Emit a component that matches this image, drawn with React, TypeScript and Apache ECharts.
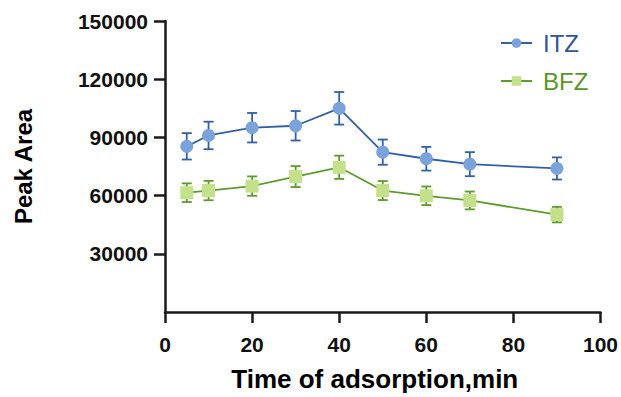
import React, { useEffect, useRef } from "react";
import * as echarts from "echarts";

const xValues = [5, 10, 20, 30, 40, 50, 60, 70, 90];
const itzMean = [85400, 91000, 95000, 96000, 105000, 82400, 79000, 76200, 74000];
const itzErr = [6800, 7100, 7600, 7600, 8400, 6500, 6100, 6200, 5700];
const bfzMean = [61500, 62600, 64900, 69800, 74600, 62600, 59900, 57500, 50200];
const bfzErr = [4800, 5000, 5000, 5400, 6000, 4900, 4800, 4600, 4000];
const seriesNames = ["ITZ", "BFZ"];

const FONT = "'Liberation Sans', Arial, sans-serif";
const ITZ_LINE = "#3160A6";
const ITZ_FILL = "#7BA2DA";
const ITZ_TEXT = "#2F5597";
const BFZ_LINE = "#5C9B2E";
const BFZ_FILL = "#C4E08A";
const BFZ_TEXT = "#5A962C";

function errData(mean: number[], err: number[]) {
  return xValues.map((x, i) => [x, mean[i] - err[i], mean[i] + err[i]]);
}

function errSeries(name: string, data: number[][], color: string) {
  return {
    type: "custom",
    name,
    data,
    encode: { x: 0, y: [1, 2] },
    z: 1,
    silent: true,
    renderItem: (params: any, api: any) => {
      const x = api.value(0);
      const pLo = api.coord([x, api.value(1)]);
      const pHi = api.coord([x, api.value(2)]);
      const hw = 5;
      const style = { stroke: color, lineWidth: 1.8 };
      return {
        type: "group",
        children: [
          { type: "line", shape: { x1: pHi[0], y1: pHi[1], x2: pLo[0], y2: pLo[1] }, style },
          { type: "line", shape: { x1: pHi[0] - hw, y1: pHi[1], x2: pHi[0] + hw, y2: pHi[1] }, style },
          { type: "line", shape: { x1: pLo[0] - hw, y1: pLo[1], x2: pLo[0] + hw, y2: pLo[1] }, style },
        ],
      };
    },
  };
}

export default function App() {
  const ref = useRef<HTMLDivElement>(null);
  useEffect(() => {
    if (!ref.current) return;
    const chart = echarts.init(ref.current, undefined, { renderer: "svg" });
    chart.setOption({
      animation: false,
      backgroundColor: "#ffffff",
      grid: { left: 165, right: 18, top: 21, bottom: 78, containLabel: false },
      legend: {
        orient: "vertical",
        left: 495,
        top: 26,
        itemWidth: 31,
        itemHeight: 12,
        itemGap: 14,
        data: [
          { name: seriesNames[0], textStyle: { color: ITZ_TEXT } },
          { name: seriesNames[1], textStyle: { color: BFZ_TEXT } },
        ],
        textStyle: { fontFamily: FONT, fontSize: 24, padding: [0, 0, 0, 6] },
      },
      xAxis: {
        type: "value",
        min: 0,
        max: 100,
        interval: 20,
        name: "Time of adsorption,min",
        nameLocation: "middle",
        nameGap: 54,
        nameTextStyle: {
          fontFamily: FONT,
          fontSize: 26,
          fontWeight: "bold",
          color: "#000",
          padding: [0, 16, 0, 0],
        },
        axisLine: { show: true, lineStyle: { color: "#1a1a1a", width: 2.5 } },
        axisTick: { show: true, length: 11, lineStyle: { color: "#1a1a1a", width: 2.5 } },
        axisLabel: { fontFamily: FONT, fontSize: 21, fontWeight: "bold", color: "#111", margin: 22 },
        splitLine: { show: false },
      },
      yAxis: {
        type: "value",
        min: 0,
        max: 150000,
        interval: 30000,
        name: "Peak Area",
        nameLocation: "middle",
        nameGap: 130,
        nameTextStyle: { fontFamily: FONT, fontSize: 24, fontWeight: "bold", color: "#000" },
        axisLine: { show: true, lineStyle: { color: "#1a1a1a", width: 2.5 } },
        axisTick: { show: true, length: 11, lineStyle: { color: "#1a1a1a", width: 2.5 } },
        axisLabel: {
          fontFamily: FONT,
          fontSize: 21,
          fontWeight: "bold",
          color: "#111",
          margin: 17,
          showMinLabel: false,
          formatter: (v: number) => String(v),
        },
        splitLine: { show: false },
      },
      series: [
        errSeries("ITZ_err", errData(itzMean, itzErr), ITZ_LINE),
        errSeries("BFZ_err", errData(bfzMean, bfzErr), BFZ_LINE),
        {
          type: "line",
          name: seriesNames[0],
          data: xValues.map((x, i) => [x, itzMean[i]]),
          symbol: "circle",
          symbolSize: 13,
          z: 3,
          lineStyle: { color: ITZ_LINE, width: 1.8 },
          itemStyle: { color: ITZ_FILL, borderWidth: 0 },
        },
        {
          type: "line",
          name: seriesNames[1],
          data: xValues.map((x, i) => [x, bfzMean[i]]),
          symbol: "rect",
          symbolSize: 13,
          z: 3,
          lineStyle: { color: BFZ_LINE, width: 1.8 },
          itemStyle: { color: BFZ_FILL, borderWidth: 0 },
        },
      ],
    });
    return () => chart.dispose();
  }, []);
  return (
    <div
      ref={ref}
      style={{ position: "fixed", left: 0, top: 0, width: 621, height: 397 }}
    />
  );
}
